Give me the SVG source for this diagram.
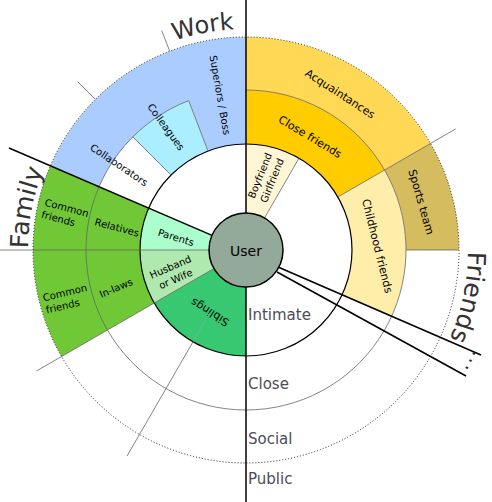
<svg xmlns="http://www.w3.org/2000/svg" width="492" height="502" viewBox="0 0 492 502">
<style>
.lbl{font-family:"DejaVu Sans","Liberation Sans",sans-serif;font-size:10px;fill:#000;text-anchor:middle}
.lbs{font-family:"DejaVu Sans","Liberation Sans",sans-serif;font-size:10px;fill:#000;text-anchor:start}
.big{font-family:"DejaVu Sans","Liberation Sans",sans-serif;font-size:24px;fill:#333;text-anchor:middle}
.ring{font-family:"DejaVu Sans","Liberation Sans",sans-serif;font-size:15px;fill:#4d4d55}
.thin{stroke:#666;stroke-width:0.8;fill:none}
.thick{stroke:#000;stroke-width:1.5;fill:none}
.sep{stroke:#000;stroke-width:1.6;fill:none}
</style>
<defs>
<path id="pWork" d="M62.8,126.4 A221,221 0 0 1 369.6,66.8"/>
<path id="pFriends" d="M432.2,129.1 A222,222 0 0 1 366.9,436.2"/>
<path id="pFamily" d="M65.3,371.9 A218,218 0 0 1 124.1,69.3"/>
<path id="pDots" d="M482,170.6 A249,249 0 0 1 325.4,486"/>
</defs>
<rect width="492" height="502" fill="#fff"/>

<g id="work-outer">
<path d="M50.36,165.76 A213,213 0 0 1 246,37 L246,144 A106,106 0 0 0 208.01,151.04 L188.66,100.62 A160,160 0 0 0 99.04,186.72 Z" fill="#aaccff"/>
<text class="lbl" transform="translate(220,95) rotate(80)" dy="3.5">Superiors / Boss</text>
</g>
<g id="colleagues">
<path d="M132.86,136.86 A160,160 0 0 1 188.66,100.62 L208.01,151.04 A106,106 0 0 0 171.05,175.05 Z" fill="#aaeeff"/>
<text class="lbl" transform="translate(166,127) rotate(54)" dy="3.5">Colleagues</text>
</g>
<g id="collaborators">
<text class="lbl" transform="translate(119,165) rotate(34)" dy="3.5">Collaborators</text>
</g>
<g id="family-outer">
<path d="M61.54,356.5 A213,213 0 0 1 50.36,165.76 L148.64,208.08 A106,106 0 0 0 154.2,303 Z" fill="#71c837"/>
<text class="lbs" transform="translate(45,202) rotate(15)"><tspan x="0" y="3.5">Common</tspan><tspan x="0" y="16">friends</tspan></text>
<text class="lbl" transform="translate(117,227.5) rotate(15)" dy="3.5">Relatives</text>
<text class="lbs" transform="translate(43,298) rotate(-13.5)"><tspan x="0" y="3.5">Common</tspan><tspan x="0" y="16">friends</tspan></text>
<text class="lbl" transform="translate(116,288) rotate(-23)" dy="3.5">In-laws</text>
</g>
<g id="parents">
<path d="M140,250 A106,106 0 0 1 148.64,208.08 L212.02,235.37 A37,37 0 0 0 209,250 Z" fill="#aaffcc"/>
<text class="lbl" transform="translate(176,237.5) rotate(17)" dy="3.5">Parents</text>
</g>
<g id="husband">
<path d="M154.2,303 A106,106 0 0 1 140,250 L209,250 A37,37 0 0 0 213.96,268.5 Z" fill="#afe9af"/>
<text class="lbl" transform="translate(173,273) rotate(-23.5)"><tspan x="0" y="-3">Husband</tspan><tspan x="0" y="10">or Wife</tspan></text>
</g>
<g id="siblings">
<path d="M246,356 A106,106 0 0 1 154.2,303 L213.96,268.5 A37,37 0 0 0 246,287 Z" fill="#37c871"/>
<text class="lbl" style="font-size:11px" transform="translate(210,312) rotate(212)" dy="3.5">Siblings</text>
</g>
<g id="boyfriend">
<path d="M246,144 A106,106 0 0 1 299,158.2 L264.5,217.96 A37,37 0 0 0 246,213 Z" fill="#fff6d5"/>
<text class="lbl" transform="translate(266,178) rotate(-68)"><tspan x="0" y="-3">Boyfriend</tspan><tspan x="0" y="10">Girlfriend</tspan></text>
</g>
<g id="close-friends">
<path d="M246,90 A160,160 0 0 1 384.56,170 L337.8,197 A106,106 0 0 0 246,144 Z" fill="#ffcc00"/>
<text class="lbl" style="font-size:11px" transform="translate(310,137) rotate(31)" dy="3.5">Close friends</text>
</g>
<g id="acquaintances">
<path d="M246,37 A213,213 0 0 1 430.46,143.5 L384.56,170 A160,160 0 0 0 246,90 Z" fill="#ffd955"/>
<text class="lbl" style="font-size:11px" transform="translate(340,94) rotate(33)" dy="3.5">Acquaintances</text>
</g>
<g id="sports-team">
<path d="M430.46,143.5 A213,213 0 0 1 459,250 L406,250 A160,160 0 0 0 384.56,170 Z" fill="#d4bc5f"/>
<text class="lbl" style="font-size:11px" transform="translate(421,202) rotate(74)" dy="3.5">Sports team</text>
</g>
<g id="childhood-friends">
<path d="M384.56,170 A160,160 0 0 1 391.64,316.26 L342.08,294.77 A106,106 0 0 0 337.8,197 Z" fill="#ffeeaa"/>
<text class="lbl" style="font-size:11px" transform="translate(377,246) rotate(76)" dy="3.5">Childhood friends</text>
</g>

<g id="connectors">
<path class="thin" d="M246,90 A160,160 0 1 1 188.66,100.62"/>
<circle cx="246" cy="250" r="213" fill="none" stroke="#222" stroke-width="1" stroke-dasharray="1 2"/>
<circle cx="246" cy="250" r="106" fill="none" stroke="#000" stroke-width="1.2"/>
<path class="thin" d="M0,250 H209"/>
<path class="thin" d="M213.96,268.5 L36.43,371"/>
<path class="thin" d="M193,341.8 L127,456.1"/>
<path d="M210,312.35 L193,341.8" stroke="#9ad" stroke-opacity="0.5" stroke-width="0.8"/>
<path class="thin" d="M171.05,175.05 L132.86,136.86 M95.4,99.4 L77.71,81.71"/>
<path class="thin" d="M208.01,151.04 L188.66,100.62 M169.66,51.14 L161.78,30.6"/>
<path class="thin" d="M264.5,217.96 L299,158.2" stroke="#999"/>
<path class="thin" d="M337.8,197 L455.58,129"/>
<path class="thin" d="M406,250 H459"/>
<path class="thick" d="M246,0 V502"/>
<path class="thick" d="M212.02,235.37 L9,148"/>
<path class="sep" d="M278,267 L481,355"/>
<path class="sep" d="M277,272 L466,376"/>
</g>

<g id="user">
<circle cx="246" cy="250" r="37" fill="#93a99a" stroke="#000" stroke-width="1.5"/>
<text class="lbl" style="font-size:14px" x="246" y="256">User</text>
</g>

<g id="zones">
<text class="ring" x="248" y="320">Intimate</text>
<text class="ring" x="248" y="389">Close</text>
<text class="ring" x="248" y="444">Social</text>
<text class="ring" x="248" y="484">Public</text>
</g>
<g id="work-label"><text class="big"><textPath href="#pWork" startOffset="50%">Work</textPath></text></g>
<g id="family-label"><text class="big" style="font-size:25px"><textPath href="#pFamily" startOffset="50%">Family</textPath></text></g>
<g id="friends-label"><text class="big" style="font-size:25px"><textPath href="#pFriends" startOffset="50%">Friends</textPath></text></g>
<g id="more-label"><text class="big" style="font-size:20px;letter-spacing:1.3px"><textPath href="#pDots" startOffset="50%">...</textPath></text></g>
</svg>
